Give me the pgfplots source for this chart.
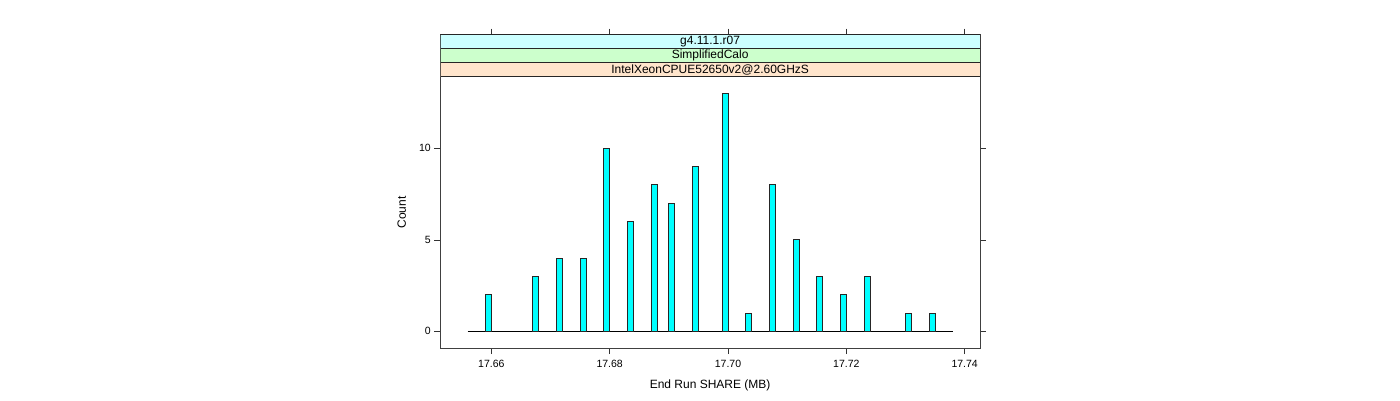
\documentclass[border=0pt]{standalone}
\usepackage{fontspec}
\setmainfont{Liberation Sans}
\usepackage{pgfplots}
\pgfplotsset{compat=1.18}
\definecolor{stripA}{HTML}{CCFFFF}
\definecolor{stripB}{HTML}{CCFFCC}
\definecolor{stripC}{HTML}{FFE5CC}
\definecolor{barfill}{HTML}{00FFFF}
\begin{document}
\begin{tikzpicture}[x=1pt,y=1pt]
\path[use as bounding box] (0,0) rectangle (1400,400);
\pgfplotsset{
  common/.style={
    scale only axis,
    anchor=south west,
    width=539.7pt,
    xmin=17.65138, xmax=17.74259,
    axis line style={black!75, line width=0.9pt},
    tick align=outside,
    major tick length=6pt,
    tick style={black!80, line width=0.6pt},
    /pgf/number format/assume math mode=true,
    tick label style={font=\fontsize{10.5}{12}\selectfont},
    label style={font=\fontsize{12}{14}\selectfont},
  }
}
\begin{axis}[common,
  at={(440.3pt,52pt)},
  height=271.3pt,
  ymin=-0.91, ymax=13.91,
  xtick={17.66,17.68,17.70,17.72,17.74},
  xticklabels={17.66,17.68,17.70,17.72,17.74},
  xticklabel style={yshift=-3pt},
  xtick pos=bottom,
  ytick={0,5,10},
  ytick pos=both,
  yticklabel pos=left,
  xlabel={End Run SHARE (MB)},
  ylabel={Count},
  xlabel style={at={(axis description cs:0.5,-0.136)}, anchor=center},
  ylabel style={at={(axis description cs:-0.0715,0.5)}, anchor=center},
]
\addplot[black, line width=1pt] coordinates {(17.656,0) (17.738,0)};
\addplot[ybar, bar shift=0pt, bar width=0.00101, fill=barfill, draw=black!85, line width=0.8pt] coordinates {
(17.6595,2) (17.6675,3) (17.6715,4) (17.6755,4) (17.6795,10) (17.6835,6)
(17.6875,8) (17.6905,7) (17.6945,9) (17.6995,13) (17.7035,1) (17.7075,8)
(17.7115,5) (17.7155,3) (17.7195,2) (17.7235,3) (17.7305,1) (17.7345,1)
};
\end{axis}
\begin{axis}[common,
  at={(440.3pt,323.3pt)},
  height=42pt,
  ymin=0, ymax=3,
  ytick=\empty,
  xtick={17.66,17.68,17.70,17.72,17.74},
  xticklabels={},
  xtick pos=top,
]
\draw[black!85, line width=0.8pt, fill=stripC] (axis cs:17.65138,0) rectangle (axis cs:17.74259,1);
\draw[black!85, line width=0.8pt, fill=stripB] (axis cs:17.65138,1) rectangle (axis cs:17.74259,2);
\draw[black!85, line width=0.8pt, fill=stripA] (axis cs:17.65138,2) rectangle (axis cs:17.74259,3);
\node[font=\fontsize{12}{14}\selectfont] at (rel axis cs:0.5,0.1667) {IntelXeonCPUE52650v2@2.60GHzS};
\node[font=\fontsize{12}{14}\selectfont] at (rel axis cs:0.5,0.5) {SimplifiedCalo};
\node[font=\fontsize{12}{14}\selectfont] at (rel axis cs:0.5,0.8333) {g4.11.1.r07};
\end{axis}
\end{tikzpicture}
\end{document}
